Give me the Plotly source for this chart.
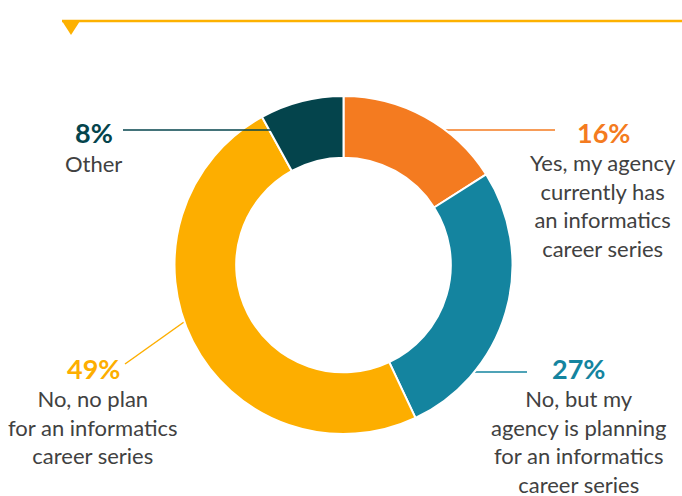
import plotly.graph_objects as go

# --- Data ---
labels = [
    "Yes, my agency currently has an informatics career series",
    "No, but my agency is planning for an informatics career series",
    "No, no plan for an informatics career series",
    "Other",
]
values = [16, 27, 49, 8]
colors = ["#F47B20", "#14849F", "#FDAE00", "#04444C"]

W, H = 682, 496
TEXT = "#414141"
FONT = "Lato"


def px(x):
    return x / W


def py(y):
    return 1 - y / H


fig = go.Figure()
fig.add_trace(go.Pie(
    labels=labels, values=values, sort=False, direction="clockwise", rotation=0,
    hole=0.635, textinfo="none", hoverinfo="label+percent",
    marker=dict(colors=colors, line=dict(color="white", width=2)),
    domain=dict(x=[px(174.5), px(512.5)], y=[py(434), py(96)]),
    showlegend=False,
))

# --- Leader lines ---
# (x0, y0, x1, y1, colour, layer)
leaders = [
    (123, 130, 273, 130, colors[3], "above"),
    (445, 130, 555, 130, colors[0], "below"),
    (475, 372, 527, 372, colors[1], "below"),
    (125, 364, 184, 322, colors[2], "below"),
]
shapes = []
for x0, y0, x1, y1, c, layer in leaders:
    shapes.append(dict(type="line", xref="paper", yref="paper", layer=layer,
                       x0=px(x0), y0=py(y0), x1=px(x1), y1=py(y1),
                       line=dict(color=c, width=1.5)))

# top rule with small triangle marker
shapes.append(dict(type="line", xref="paper", yref="paper",
                   x0=px(62), y0=py(21), x1=1, y1=py(21),
                   line=dict(color="#FDB100", width=2.5)))
shapes.append(dict(type="path", xref="paper", yref="paper",
                   path=f"M {px(62)},{py(21)} L {px(80)},{py(21)} L {px(71)},{py(35)} Z",
                   fillcolor="#FDB100", line=dict(width=0)))

# --- Labels ---
blocks = [
    ("16%", ["Yes, my agency", "currently has", "an informatics", "career series"], 603, 132, colors[0]),
    ("27%", ["No, but my", "agency is planning", "for an informatics", "career series"], 578, 368, colors[1]),
    ("49%", ["No, no plan", "for an informatics", "career series"], 93, 368, colors[2]),
    ("8%", ["Other"], 94, 133, colors[3]),
]
annotations = []
for pct, lines, cx, cy, c in blocks:
    annotations.append(dict(text=f"<b>{pct}</b>", x=px(cx), y=py(cy), xref="paper", yref="paper",
                            showarrow=False, xanchor="center", yanchor="middle",
                            font=dict(family=FONT, size=27, color=c)))
    annotations.append(dict(text="<br>".join(lines), x=px(cx), y=py(cy + 14.5), xref="paper", yref="paper",
                            showarrow=False, xanchor="center", yanchor="top", align="center",
                            font=dict(family=FONT, size=22, color=TEXT)))

fig.update_layout(
    width=W, height=H, margin=dict(l=0, r=0, t=0, b=0),
    paper_bgcolor="white", plot_bgcolor="white",
    shapes=shapes, annotations=annotations,
)

# page body has a default 8px margin; drop it so the figure sits at 0,0
fig.write_html("out.html", config={"displayModeBar": False},
               post_script="document.body.style.margin='0';")
